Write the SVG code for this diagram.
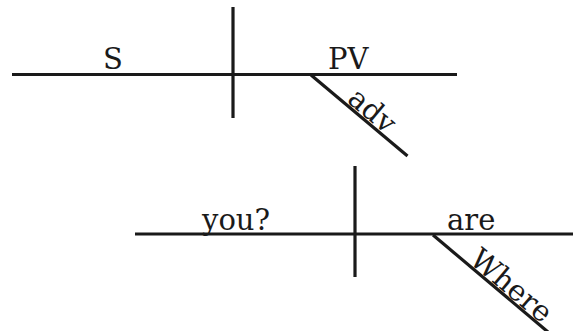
<svg xmlns="http://www.w3.org/2000/svg" width="573" height="331" viewBox="0 0 573 331">
<style>
.ln{stroke:#1a1a1a;stroke-width:3.2;fill:none}
.t{font-family:"DejaVu Serif","Liberation Serif",serif;font-size:29px;fill:#1a1a1a}
</style>
<rect width="573" height="331" fill="#fff"/>
<g id="connectors">
<line class="ln" x1="12" y1="74.5" x2="457" y2="74.5"/>
<line class="ln" x1="233" y1="7" x2="233" y2="118"/>
<line class="ln" x1="311" y1="75" x2="407.5" y2="156"/>
<line class="ln" x1="135" y1="234" x2="573" y2="234"/>
<line class="ln" x1="355" y1="166" x2="355" y2="277"/>
<line class="ln" x1="433" y1="235" x2="548" y2="332"/>
</g>
<g id="S"><text class="t" x="113" y="69" text-anchor="middle">S</text></g>
<g id="PV"><text class="t" x="328" y="69">PV</text></g>
<g id="adv"><text class="t" text-anchor="middle" transform="translate(366,118) rotate(40)">adv</text></g>
<g id="you"><text class="t" x="202" y="230">you?</text></g>
<g id="are"><text class="t" x="447" y="230">are</text></g>
<g id="Where"><text class="t" text-anchor="middle" transform="translate(505,293) rotate(40)">Where</text></g>
</svg>
